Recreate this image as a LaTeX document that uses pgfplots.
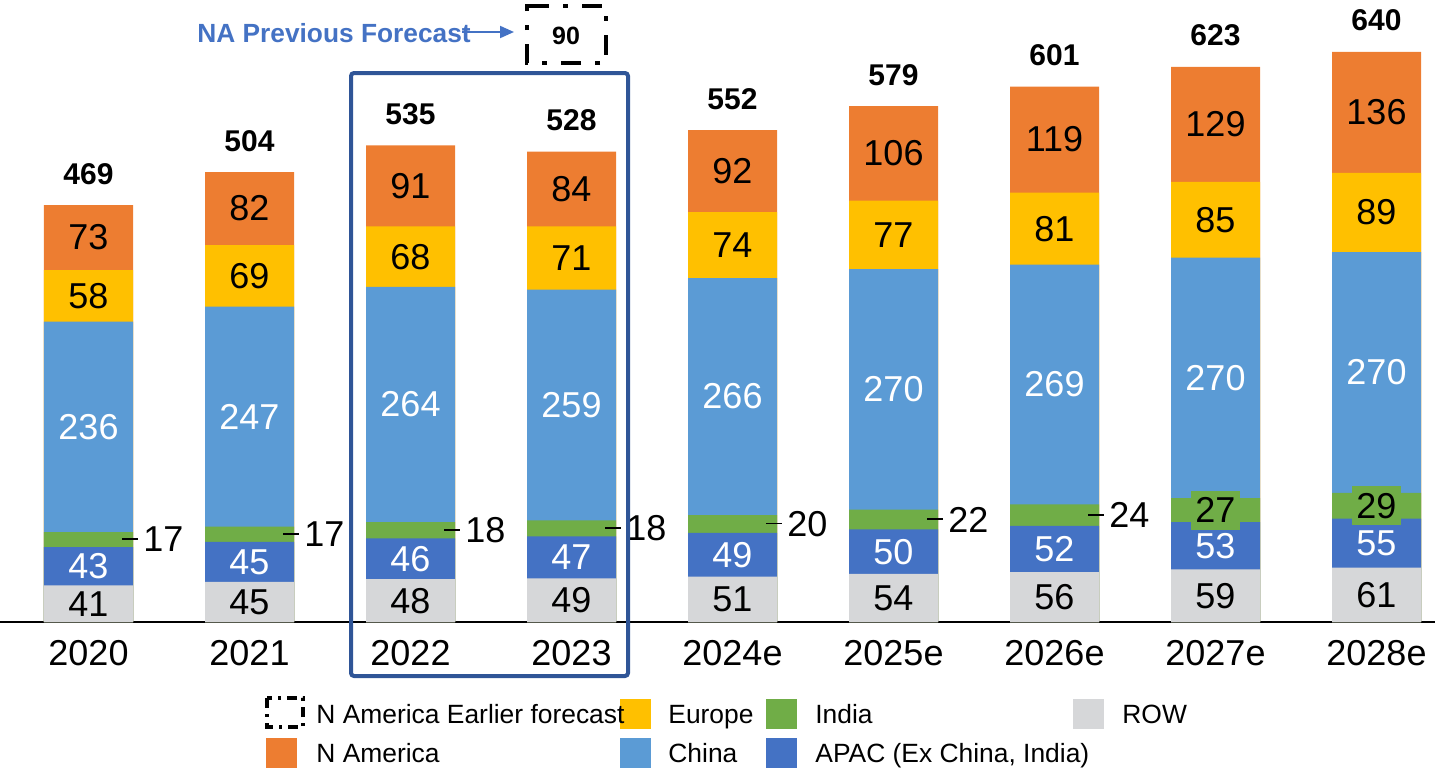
\documentclass[border=0pt]{standalone}
\usepackage{fontspec}
\setmainfont{Liberation Sans}
\usepackage{pgfplots}
\usepackage{pgfplotstable}
\pgfplotsset{compat=1.18}
\usetikzlibrary{arrows.meta}
\definecolor{cNA}{HTML}{ED7D31}
\definecolor{cEU}{HTML}{FFC000}
\definecolor{cCN}{HTML}{5B9BD5}
\definecolor{cIN}{HTML}{70AD47}
\definecolor{cAP}{HTML}{4472C4}
\definecolor{cRW}{HTML}{D6D7D9}
\definecolor{cFrame}{HTML}{2F5597}
\pgfplotstableread{
x ROW APAC India China Europe NA Total
0 41 43 17 236 58 73 469
1 45 45 17 247 69 82 504
2 48 46 18 264 68 91 535
3 49 47 18 259 71 84 528
4 51 49 20 266 74 92 552
5 54 50 22 270 77 106 579
6 56 52 24 269 81 119 601
7 59 53 27 270 85 129 623
8 61 55 29 270 89 136 640
}\data
\pgfplotstablecreatecol[expr={\thisrow{ROW}}]{c1}\data
\pgfplotstablecreatecol[expr={\thisrow{c1}+\thisrow{APAC}}]{c2}\data
\pgfplotstablecreatecol[expr={\thisrow{c2}+\thisrow{India}}]{c3}\data
\pgfplotstablecreatecol[expr={\thisrow{c3}+\thisrow{China}}]{c4}\data
\pgfplotstablecreatecol[expr={\thisrow{c4}+\thisrow{Europe}}]{c5}\data
\pgfplotstablecreatecol[expr={\thisrow{c5}+\thisrow{NA}}]{c6}\data
\newcommand\vfont{\fontsize{18}{20}\selectfont}
\newcommand\lfont{\fontsize{13.2}{15}\selectfont}
\pgfplotsset{
  bars/.style={ybar, bar width=44.5pt, bar shift=0pt, draw=none, fill=#1},
  lbl/.style={draw=none, mark=none, point meta=explicit symbolic, nodes near coords,
    every node near coord/.append style={anchor=center, inner sep=0pt, font=\vfont, text=#1}},
}
\begin{document}
\begin{tikzpicture}
\begin{axis}[
  at={(0pt,0pt)}, anchor=south west,
  scale only axis, width=717.5pt, height=311pt,
  xmin=-0.54969, xmax=8.36335, ymin=0, ymax=698.1,
  axis y line=none, axis x line=bottom,
  x axis line style={-, line width=1pt, black},
  xtick={0,...,8},
  xticklabels={2020,2021,2022,2023,2024e,2025e,2026e,2027e,2028e},
  major tick length=0pt,
  xticklabel style={font=\vfont, anchor=base, yshift=-21.5pt},
  clip=false,
]
\addplot[bars=cNA] table[x=x,y=c6]{\data};
\addplot[bars=cEU] table[x=x,y=c5]{\data};
\addplot[bars=cCN] table[x=x,y=c4]{\data};
\addplot[bars=cIN] table[x=x,y=c3]{\data};
\addplot[bars=cAP] table[x=x,y=c2]{\data};
\addplot[bars=cRW] table[x=x,y=c1]{\data};
% segment labels
\addplot[lbl=black] table[x=x, y expr=\thisrow{ROW}/2, meta=ROW]{\data};
\addplot[lbl=white] table[x=x, y expr=\thisrow{c1}+\thisrow{APAC}/2, meta=APAC]{\data};
\addplot[lbl=black, restrict x to domain=0:6.5,
  nodes near coords={\rule[6.05pt]{8pt}{0.8pt}\hspace{2.5pt}\pgfplotspointmeta},
  every node near coord/.append style={anchor=west, xshift=16.75pt}]
  table[x=x, y expr=\thisrow{c2}+\thisrow{India}/2, meta=India]{\data};
\addplot[lbl=black, restrict x to domain=6.5:8.5,
  every node near coord/.append style={fill=cIN, inner xsep=2pt, inner ysep=3.5pt}]
  table[x=x, y expr=\thisrow{c2}+\thisrow{India}/2, meta=India]{\data};
\addplot[lbl=white] table[x=x, y expr=\thisrow{c3}+\thisrow{China}/2, meta=China]{\data};
\addplot[lbl=black] table[x=x, y expr=\thisrow{c4}+\thisrow{Europe}/2, meta=Europe]{\data};
\addplot[lbl=black] table[x=x, y expr=\thisrow{c5}+\thisrow{NA}/2, meta=NA]{\data};
\addplot[lbl=black,
  every node near coord/.append style={anchor=base, yshift=10.5pt, font=\bfseries\fontsize{15}{17}\selectfont}]
  table[x=x, y=c6, meta=Total]{\data};
\end{axis}
\begin{scope}[x=0.5pt, y=-0.5pt, shift={(0pt,311pt)}]
  \draw[cFrame, line width=2pt, rounded corners=1.5pt] (351,73) rectangle (628,676);
  \node[anchor=west, inner sep=0pt, text=cAP, font=\bfseries\fontsize{13.15}{15}\selectfont] at (197,33) {NA Previous Forecast};
  \draw[cAP, line width=1pt, -{Triangle[length=7pt, width=6pt]}] (462,32) -- (514,32);
  \draw[line width=1.9pt, dash pattern=on 10pt off 7pt on 2.5pt off 7pt] (529,6) -- (606,6) -- (606,63) -- (527,63) -- (527,6) -- cycle;
  \node[font=\bfseries\fontsize{12.5}{14}\selectfont, inner sep=0pt] at (566,36) {90};
  % legend
  \draw[line width=1.6pt, dash pattern=on 5pt off 3pt on 1.5pt off 3pt] (267,698) rectangle (303,727);
  \fill[cEU] (620,699) rectangle (651,729);
  \fill[cIN] (766,699) rectangle (797,729);
  \fill[cRW] (1073,699) rectangle (1104,729);
  \fill[cNA] (266,738) rectangle (297,768);
  \fill[cCN] (620,738) rectangle (651,768);
  \fill[cAP] (766,738) rectangle (797,768);
  \node[anchor=base west, inner sep=0pt, font=\lfont] at (316,723.5) {N America Earlier forecast};
  \node[anchor=base west, inner sep=0pt, font=\lfont] at (668,723.5) {Europe};
  \node[anchor=base west, inner sep=0pt, font=\lfont] at (815,723.5) {India};
  \node[anchor=base west, inner sep=0pt, font=\lfont] at (1122,723.5) {ROW};
  \node[anchor=base west, inner sep=0pt, font=\lfont] at (316,762.5) {N America};
  \node[anchor=base west, inner sep=0pt, font=\lfont] at (668,762.5) {China};
  \node[anchor=base west, inner sep=0pt, font=\lfont] at (815,762.5) {APAC (Ex China, India)};
  \pgfresetboundingbox
  \path (0,0) rectangle (1435,768);
\end{scope}
\end{tikzpicture}
\end{document}
